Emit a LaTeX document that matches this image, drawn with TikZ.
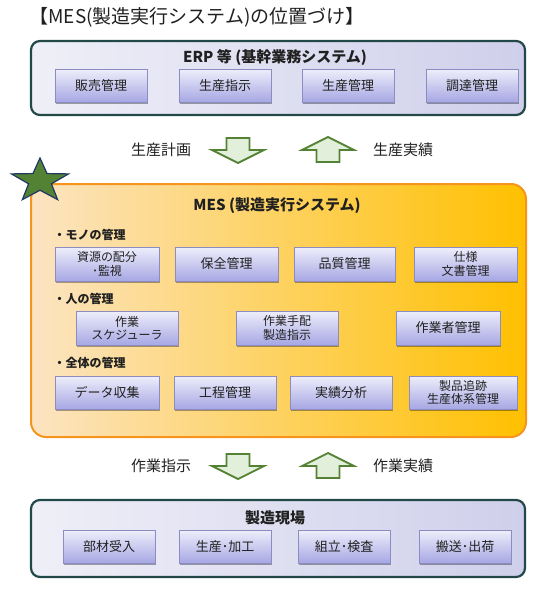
\documentclass[tikz,border=0pt]{standalone}
\usepackage{fontspec}
\setmainfont{Noto Sans CJK JP}
\usetikzlibrary{shadows}

\definecolor{moji}{HTML}{202020}
\definecolor{waku}{HTML}{234848}
\definecolor{sotoL}{HTML}{EFEFF8}
\definecolor{sotoR}{HTML}{CFCFEB}
\definecolor{kanriline}{HTML}{8C8CC0}
\definecolor{kanritop}{HTML}{EEEEFB}
\definecolor{kanribot}{HTML}{A7A7E4}
\definecolor{mesline}{HTML}{F7941D}
\definecolor{mesL}{HTML}{FCE4C2}
\definecolor{mesM}{HTML}{FFC63A}
\definecolor{mesR}{HTML}{FFC000}
\definecolor{yaline}{HTML}{548235}
\definecolor{yafill}{HTML}{E2EFDA}
\definecolor{hoshi}{HTML}{548235}
\definecolor{hoshiline}{HTML}{203864}

\begin{document}
\begin{tikzpicture}[x=1pt,y=-1pt,line cap=round] %% 1 unit = 1 px, y down
	\tikzstyle{soto}=[draw=waku,line width=2.2pt,rounded corners=9pt,left color=sotoL,right color=sotoR];
	\tikzstyle{mesbox}=[draw=mesline,line width=2pt,rounded corners=15pt,left color=mesL,middle color=mesM,right color=mesR];
	\tikzstyle{kanri}=[draw=kanriline,top color=kanritop,bottom color=kanribot,minimum height=33pt,inner sep=1pt,align=center,text=moji,font=\fontsize{13}{14}\selectfont,drop shadow={shadow xshift=1.2pt,shadow yshift=-1.5pt,opacity=.35,fill=black}];
	\tikzstyle{hitotsu}=[];
	\tikzstyle{futatsu}=[font=\fontsize{12}{13.5}\selectfont];
	\tikzstyle{midashi}=[text=moji,font=\bfseries\fontsize{15}{16}\selectfont];
	\tikzstyle{komoku}=[anchor=west,text=moji,font=\bfseries\fontsize{12}{14}\selectfont];
	\tikzstyle{yalabel}=[text=moji,font=\fontsize{15}{16}\selectfont];
	\tikzstyle{ya}=[draw=yaline,line width=1.8pt,line cap=butt,fill=yafill];
	\useasboundingbox (0,0) rectangle (553,590);
	%% title
	\node[anchor=west,text=moji,font=\fontsize{19}{20}\selectfont] (daimei) at (26,17) {【MES(製造実行システム)の位置づけ】};
	%% ERP
	\path[soto] (31,41) rectangle (525,115);
	\node[midashi] (erp) at (275,58) {ERP 等 (基幹業務システム)};
	\foreach \x/\t [count=\i] in {101/販売管理,225/生産指示,348/生産管理,472/調達管理}
		\node[kanri,minimum width=92pt] (erp\i) at (\x,85.5) {\t};
	%% arrows
	\tikzset{shitaya/.pic={\path[ya] (-11.5,-12) -- (11.5,-12) -- (11.5,0) -- (26,0) -- (0,13) -- (-26,0) -- (-11.5,0) -- cycle;}};
	\foreach \y in {150,466} {
		\pic at (238,\y) {shitaya};
		\pic[yscale=-1] at (328,\y) {shitaya};
	}
	\node[yalabel] (keikaku) at (161,150) {生産計画};
	\node[yalabel] (jisseki) at (403,150) {生産実績};
	\node[yalabel] (shiji) at (161,466) {作業指示};
	\node[yalabel] (sagyojisseki) at (403,466) {作業実績};
	%% MES
	\path[mesbox] (31,184) rectangle (526,437);
	% star
	\begin{scope}[shift={(40,181)},xscale=30,yscale=23]
		\draw[fill=hoshi,draw=hoshiline,line width=1.2pt,line join=miter] (-90:1) \foreach \a in {1,...,9} { -- ({-90+36*\a}:{mod(\a,2)==0 ? 1 : 0.4}) } -- cycle;
	\end{scope}
	\node[midashi] (mes) at (277,206) {MES (製造実行システム)};
	\node[komoku] (mono) at (50,235) {・モノの管理};
	\foreach \x/\w/\s/\t [count=\i] in {107/104/futatsu/{資源の配分\\･監視},226.5/103/hitotsu/保全管理,344.5/101/hitotsu/品質管理,465.5/103/futatsu/{仕様\\文書管理}}
		\node[kanri,\s,minimum width=\w pt,minimum height=34pt] (mono\i) at (\x,264) {\t};
	\node[komoku] (hito) at (50,299) {・人の管理};
	\foreach \x/\w/\s/\t [count=\i] in {127/102/futatsu/{作業\\スケジューラ},287/102/futatsu/{作業手配\\製造指示},448/104/hitotsu/作業者管理}
		\node[kanri,\s,minimum width=\w pt,minimum height=34pt] (hito\i) at (\x,328) {\t};
	\node[komoku] (zentai) at (50,363) {・全体の管理};
	\foreach \x/\w/\s/\t [count=\i] in {107/104/hitotsu/データ収集,225/102/hitotsu/工程管理,341/102/hitotsu/実績分析,463/108/futatsu/{製品追跡\\生産体系管理}}
		\node[kanri,\s,minimum width=\w pt] (zentai\i) at (\x,392.5) {\t};
	%% genba
	\path[soto] (31,500) rectangle (525,577);
	\node[midashi] (genba) at (275,518) {製造現場};
	\foreach \x/\t [count=\i] in {109/部材受入,225/生産･加工,344/組立･検査,465/搬送･出荷}
		\node[kanri,minimum width=92pt] (genba\i) at (\x,546.5) {\t};
\end{tikzpicture}
\end{document}
